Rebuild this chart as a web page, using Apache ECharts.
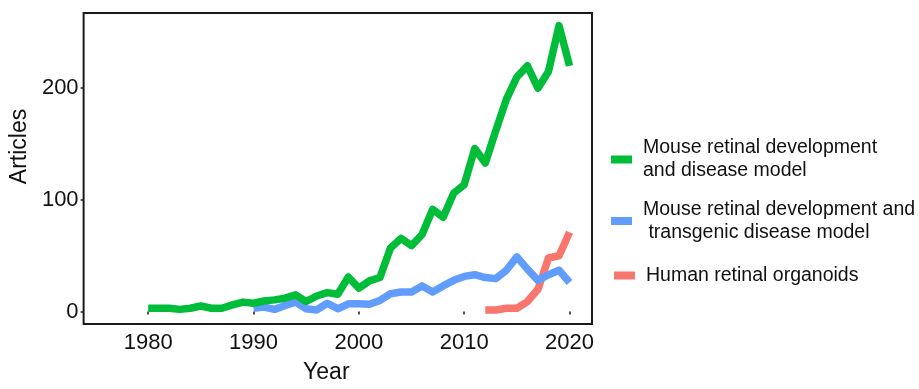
<!DOCTYPE html>
<html>
<head>
<meta charset="utf-8">
<script src="https://cdn.jsdelivr.net/npm/echarts@6/dist/echarts.min.js"></script>
<style>
  html, body { margin: 0; padding: 0; background: #fff; }
  #chart { width: 919px; height: 389px; }
</style>
</head>
<body>
<div id="chart"></div>
<script>
// Publications per year for three research topics
const mouseDiseaseYears = [1980, 1981, 1982, 1983, 1984, 1985, 1986, 1987, 1988, 1989,
  1990, 1991, 1992, 1993, 1994, 1995, 1996, 1997, 1998, 1999,
  2000, 2001, 2002, 2003, 2004, 2005, 2006, 2007, 2008, 2009,
  2010, 2011, 2012, 2013, 2014, 2015, 2016, 2017, 2018, 2019, 2020];
const mouseDiseaseCounts = [3, 3, 3, 2, 3, 5, 3, 3, 6, 8.5,
  7.5, 9.5, 10.5, 12, 15, 9, 14, 17, 15.5, 31,
  21, 27.5, 30.5, 57, 65.5, 59, 69, 91.5, 84.5, 106,
  113.5, 146, 133, 162, 190, 210, 220, 200, 215, 256, 220];

const transgenicYears = [1990, 1991, 1992, 1993, 1994, 1995, 1996, 1997, 1998, 1999,
  2000, 2001, 2002, 2003, 2004, 2005, 2006, 2007, 2008, 2009,
  2010, 2011, 2012, 2013, 2014, 2015, 2016, 2017, 2018, 2019, 2020];
const transgenicCounts = [3, 4, 2, 5.5, 8.5, 2.5, 1.5, 7.5, 2.5, 7,
  7, 6.5, 10, 16, 17.5, 17.5, 23, 17.5, 23, 28,
  31.5, 33, 30.5, 29.5, 37, 49, 38, 28, 33, 37, 26];

const organoidYears = [2012, 2013, 2014, 2015, 2016, 2017, 2018, 2019, 2020];
const organoidCounts = [1.5, 1.5, 3, 3, 9, 20, 48, 50, 71];

const xTicks = [1980, 1990, 2000, 2010, 2020];
const yTicks = [0, 100, 200];

const seriesNames = [
  'Mouse retinal development\nand disease model',
  'Mouse retinal development and\n transgenic disease model',
  'Human retinal organoids'
];
const seriesColors = ['#00BD39', '#619CFF', '#F8766D'];

const pairs = (xs, ys) => xs.map((x, i) => [x, ys[i]]);

const FONT = '"Liberation Sans", Arial, sans-serif';

const legendText = {
  fontFamily: FONT,
  fontSize: 19.5,
  color: '#111',
  lineHeight: 23
};

function legendAt(name, left, top, padding) {
  return {
    data: [{ name: name, icon: 'rect' }],
    left: left, top: top, padding: 0,
    itemWidth: 21, itemHeight: 8,
    itemStyle: { borderWidth: 0 },
    textStyle: Object.assign({ padding: padding }, legendText),
    selectedMode: false
  };
}

const chart = echarts.init(document.getElementById('chart'), null, { renderer: 'canvas' });

chart.setOption({
  animation: false,
  backgroundColor: '#fff',
  grid: {
    left: 78, right: 327, top: 13, bottom: 58,
    show: true, borderColor: '#1a1a1a', borderWidth: 2, backgroundColor: 'transparent'
  },
  xAxis: {
    type: 'value',
    min: 1973.87,
    max: 2022.13,
    splitLine: { show: false },
    axisLine: { show: false },
    axisTick: { show: true, customValues: xTicks, length: 3, inside: false,
      lineStyle: { color: '#1a1a1a', width: 1.5 } },
    axisLabel: { customValues: xTicks, margin: 8, color: '#111',
      fontFamily: FONT, fontSize: 22, formatter: v => String(v) },
    name: 'Year',
    nameLocation: 'middle',
    nameGap: 37,
    nameTextStyle: { fontFamily: FONT, fontSize: 23, color: '#111', padding: [0, 23, 0, 0] }
  },
  yAxis: {
    type: 'value',
    min: -11.1,
    max: 267.3,
    splitLine: { show: false },
    axisLine: { show: false },
    axisTick: { show: true, customValues: yTicks, length: 3, inside: false,
      lineStyle: { color: '#1a1a1a', width: 1.5 } },
    axisLabel: { customValues: yTicks, margin: 5, color: '#111',
      fontFamily: FONT, fontSize: 22, formatter: v => String(v) },
    name: 'Articles',
    nameLocation: 'middle',
    nameRotate: 90,
    nameGap: 46,
    nameTextStyle: { fontFamily: FONT, fontSize: 23, color: '#111', padding: [0, 0, 0, 44] }
  },
  legend: [
    legendAt(seriesNames[0], 611, 133.5, [0, 0, 6, 6]),
    legendAt(seriesNames[1], 611, 195, [0, 0, 6, 6]),
    legendAt(seriesNames[2], 614, 264, [0, 0, 0, 6])
  ],
  series: [
    { name: seriesNames[0], data: pairs(mouseDiseaseYears, mouseDiseaseCounts) },
    { name: seriesNames[1], data: pairs(transgenicYears, transgenicCounts) },
    { name: seriesNames[2], data: pairs(organoidYears, organoidCounts) }
  ].map((s, i) => Object.assign({
    type: 'line',
    showSymbol: false,
    symbol: 'none',
    color: seriesColors[i],
    lineStyle: { width: 7.5, color: seriesColors[i], join: 'round' },
    z: 3 - i
  }, s))
});
</script>
</body>
</html>
